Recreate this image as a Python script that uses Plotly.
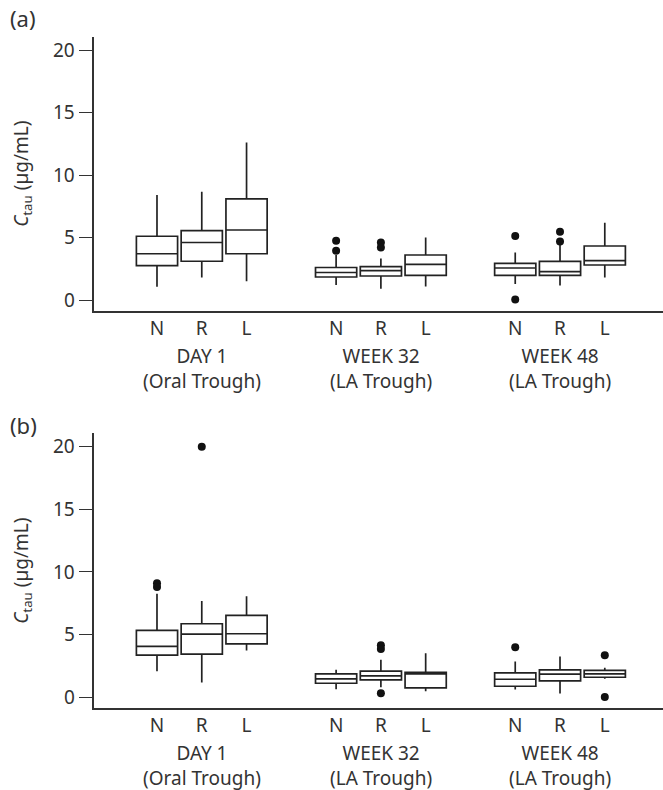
import plotly.graph_objects as go

# ---------------- data ----------------
groups = ["DAY 1<br>(Oral Trough)", "WEEK 32<br>(LA Trough)", "WEEK 48<br>(LA Trough)"]
arms = ["N", "R", "L"]

# Panel (a): order = Day1 N,R,L, Week32 N,R,L, Week48 N,R,L
a_lo  = [1.07, 1.80, 1.50, 1.20, 0.90, 1.09, 1.28, 1.17, 1.81]
a_q1  = [2.75, 3.10, 3.70, 1.84, 1.92, 1.97, 1.97, 1.97, 2.80]
a_med = [3.70, 4.60, 5.60, 2.20, 2.35, 2.85, 2.56, 2.27, 3.15]
a_q3  = [5.10, 5.55, 8.10, 2.60, 2.67, 3.60, 2.93, 3.09, 4.32]
a_hi  = [8.40, 8.67, 12.6, 3.60, 3.33, 5.00, 3.80, 4.45, 6.19]
a_out = [[], [], [], [4.75, 3.95], [4.6, 4.2], [], [5.12, 0.05], [5.47, 4.69], []]

# Panel (b)
b_lo  = [2.08, 1.18, 3.74, 0.64, 0.80, 0.48, 0.62, 0.30, 1.47]
b_q1  = [3.36, 3.44, 4.27, 1.12, 1.39, 0.75, 0.88, 1.31, 1.60]
b_med = [4.06, 5.04, 5.07, 1.47, 1.71, 1.87, 1.44, 1.84, 1.87]
b_q3  = [5.34, 5.87, 6.54, 1.87, 2.08, 1.98, 1.95, 2.19, 2.14]
b_hi  = [8.27, 7.68, 8.06, 2.19, 2.99, 3.52, 2.86, 3.26, 2.35]
b_out = [[9.1, 8.8], [20.0], [], [], [4.15, 3.85, 0.32], [], [4.0], [], [3.36, 0.03]]

y_ticks = [0, 5, 10, 15, 20]

# ---------------- figure ----------------
W, H = 663, 790
FONT = "Noto Sans"
FS = 19
TXT = "#333333"
LINE = "#222222"

ngroups = len(groups)
positions = [4 * g + a for g in range(ngroups) for a in range(len(arms))]
ticklabels = [arms[a] for g in range(ngroups) for a in range(len(arms))]

fig = go.Figure()

panels = [
    ("x", "y", a_lo, a_q1, a_med, a_q3, a_hi, a_out),
    ("x2", "y2", b_lo, b_q1, b_med, b_q3, b_hi, b_out),
]

for xa, ya, lo, q1, med, q3, hi, out in panels:
    for i, xpos in enumerate(positions):
        fig.add_trace(go.Box(
            x=[xpos], q1=[q1[i]], median=[med[i]], q3=[q3[i]],
            lowerfence=[lo[i]], upperfence=[hi[i]],
            width=0.92, whiskerwidth=0, fillcolor="white",
            line=dict(color=LINE, width=1.7),
            boxpoints=False, showlegend=False, hoverinfo="skip",
            xaxis=xa, yaxis=ya,
        ))
        if out[i]:
            fig.add_trace(go.Scatter(
                x=[xpos] * len(out[i]), y=out[i], mode="markers",
                marker=dict(color="#111111", size=8),
                showlegend=False, hoverinfo="skip",
                xaxis=xa, yaxis=ya,
            ))

x_left = 94.3 / W
xrange = [-1.4, 11.3]
yrange = [-0.88, 21.07]

common_x = dict(
    range=xrange, tickmode="array", tickvals=positions, ticktext=ticklabels,
    showline=True, linecolor=TXT, linewidth=1.5, ticks="", showgrid=False,
    zeroline=False, tickfont=dict(family=FONT, size=FS, color=TXT),
    domain=[x_left, 1.0], automargin=False, ticklabelstandoff=-1,
)
common_y = dict(
    range=yrange, tickmode="array", tickvals=y_ticks,
    showline=True, linecolor=TXT, linewidth=1.5, ticks="outside", ticklen=14,
    tickcolor=TXT, tickwidth=1.3, showgrid=False, zeroline=False,
    tickfont=dict(family=FONT, size=FS, color=TXT), automargin=False,
)

dom_a = [(H - 311) / H, (H - 36.7) / H]
dom_b = [(H - 708.3) / H, (H - 433.3) / H]

fig.update_layout(
    width=W, height=H,
    margin=dict(l=0, r=0, t=0, b=0, pad=0),
    paper_bgcolor="white", plot_bgcolor="white",
    xaxis=dict(**common_x, anchor="y"),
    yaxis=dict(**common_y, domain=dom_a, anchor="x"),
    xaxis2=dict(**common_x, anchor="y2"),
    yaxis2=dict(**common_y, domain=dom_b, anchor="x2"),
    font=dict(family=FONT, color=TXT),
)

annotations = []
label_top = [18, 425]
for k, (dom, ylab, xref, yref) in enumerate([(dom_a, "(a)", "x", "y domain"), (dom_b, "(b)", "x2", "y2 domain")]):
    for g in range(ngroups):
        annotations.append(dict(
            x=4 * g + 1, y=0, xref=xref, yref=yref, text=groups[g], showarrow=False,
            yanchor="top", yshift=-30, font=dict(family=FONT, size=FS, color=TXT),
        ))
    annotations.append(dict(
        x=22 / W, y=(dom[0] + dom[1]) / 2, xref="paper", yref="paper",
        xanchor="center", yanchor="middle",
        text="<i>C</i><sub>tau</sub> (µg/mL)", textangle=-90, showarrow=False,
        font=dict(family=FONT, size=FS, color=TXT),
    ))
    annotations.append(dict(
        x=8 / W, y=1 - label_top[k] / H, xref="paper", yref="paper", text=ylab,
        showarrow=False, xanchor="left", yanchor="middle",
        font=dict(family=FONT, size=22, color=TXT),
    ))
fig.update_layout(annotations=annotations)

fig.write_html(
    "out.html",
    config={"displayModeBar": False},
    post_script="document.body.style.margin='0';document.body.style.overflow='hidden';",
)
